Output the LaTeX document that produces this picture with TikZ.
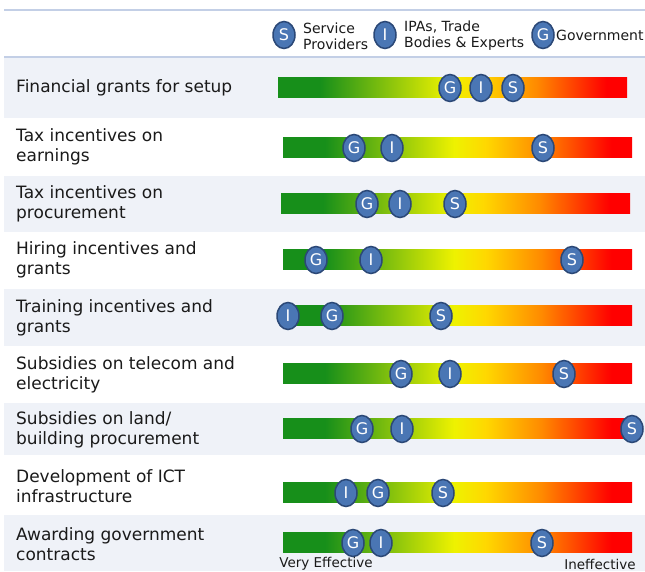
\documentclass[tikz,border=0pt]{standalone}
\usepackage{fontspec}
\setmainfont{DejaVu Sans}
\usetikzlibrary{shapes,positioning}

\definecolor{bandgray}{HTML}{EFF2F8}
\definecolor{rulecol}{HTML}{C3CFE6}
\definecolor{effgreen}{HTML}{178F1A}
\definecolor{effyellow}{HTML}{EEF200}
\definecolor{effgold}{HTML}{FFD800}
\definecolor{efforange}{HTML}{FF8A00}
\definecolor{effred}{HTML}{FF0000}
\definecolor{markfill}{HTML}{4A76B4}
\definecolor{markedge}{HTML}{2B4877}
\definecolor{inkcol}{HTML}{1A1A1A}

\pgfdeclarehorizontalshading{effect}{100bp}{color(0bp)=(effgreen); color(31bp)=(effgreen); color(49.5bp)=(effyellow); color(54bp)=(effgold); color(62bp)=(efforange); color(72bp)=(effred); color(100bp)=(effred)}

\tikzset{
  rowlabel/.style={anchor=west, align=left, text=inkcol, inner sep=0pt, font=\fontsize{17}{20.5}\selectfont},
  effbar/.style={shading=effect, anchor=west, minimum width=349pt, minimum height=20pt, inner sep=0pt},
  rater/.style={ellipse, draw=markedge, line width=1.5pt, fill=markfill, text=white, minimum width=22pt, minimum height=27pt, inner sep=0pt, font=\fontsize{16}{16}\selectfont},
  legendtext/.style={anchor=west, align=left, text=inkcol, inner sep=0pt, font=\fontsize{14}{16}\selectfont},
  scaletext/.style={text=inkcol, inner sep=0pt, font=\fontsize{13.5}{14}\selectfont},
}

\begin{document}
\begin{tikzpicture}[x=1pt, y=-1pt]
  \useasboundingbox (0,0) rectangle (645,571);
  \fill[white] (0,0) rectangle (645,571);

  % shaded rows
  \foreach \t/\b in {57/118, 176/232, 289/346, 403/455, 515/571}
    \fill[bandgray] (4,\t) rectangle (645,\b);
  \draw[rulecol, line width=1.5pt] (4,10) -- (645,10);
  \draw[rulecol, line width=1.5pt] (4,57) -- (645,57);

  % legend
  \node[rater] (keys) at (284,35) {S};
  \node[legendtext] (keystext) at (303,36) {Service\\Providers};
  \node[rater] (keyi) at (385,35) {I};
  \node[legendtext] (keyitext) at (404,36) {IPAs, Trade\\Bodies \& Experts};
  \node[rater] (keyg) at (543,35) {G};
  \node[legendtext] (keygtext) at (556,35) {Government};

  % rows: label y / bar y / bar x / G / I / S / label
  \foreach \n/\ly/\by/\bx/\g/\ii/\s/\txt in {
      1/88/87/278/450/481/513/{Financial grants for setup},
      2/147/147/283/354/392/543/{Tax incentives on\\earnings},
      3/204/203/281/367/400/455/{Tax incentives on\\procurement},
      4/260/259/283/316/371/572/{Hiring incentives and\\grants},
      5/318/315/283/332/288/441/{Training incentives and\\grants},
      6/375/373/283/401/450/564/{Subsidies on telecom and\\electricity},
      7/430/428/283/362/402/632/{Subsidies on land/\\building procurement},
      8/486/492/283/378/346/443/{Development of ICT\\infrastructure},
      9/544/542/283/353/381/542/{Awarding government\\contracts}}
  {
    \node[rowlabel] (lab\n) at (16,\ly) {\txt};
    \node[effbar] (bar\n) at (\bx,\by) {};
    \node[rater] (gov\n) at (\g,\by+1) {G};
    \node[rater] (ipa\n) at (\ii,\by+1) {I};
    \node[rater] (svc\n) at (\s,\by+1) {S};
  }

  \node[scaletext] (veryeff) at (326,564) {Very Effective};
  \node[scaletext] (ineff) at (600,564) {Ineffective};
\end{tikzpicture}
\end{document}
